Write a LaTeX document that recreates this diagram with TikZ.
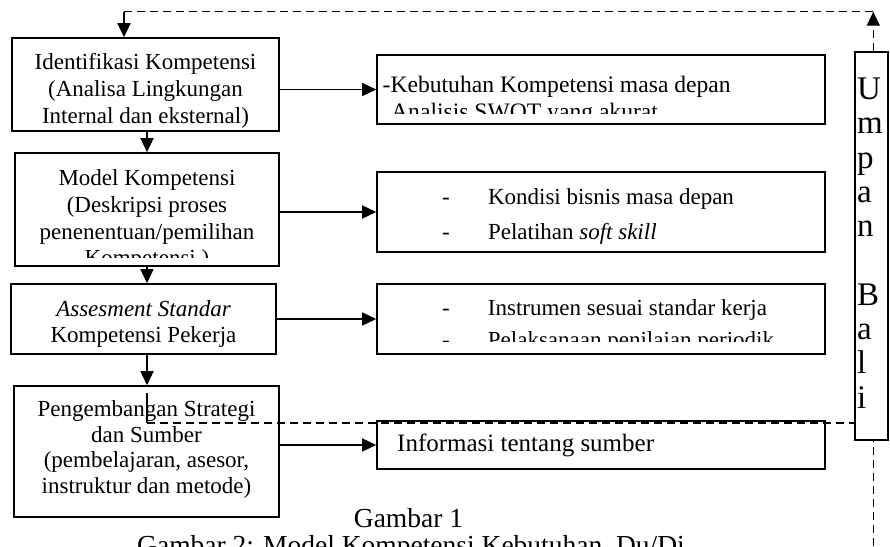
\documentclass[tikz,border=0pt]{standalone}
\usepackage{fontspec}
\setmainfont{Liberation Serif}
\usetikzlibrary{arrows.meta,fit}
\begin{document}
\begin{tikzpicture}[x=1pt,y=-1pt,
  box/.style={draw, line width=1.6pt, inner sep=0pt},
  arr/.style={line width=1.5pt, -{Triangle[length=14pt,width=13pt]}},
  fb/.style={line width=1.3pt, dash pattern=on 8pt off 5pt},
  tc/.style={inner sep=0pt, anchor=base, font=\fontsize{23}{27}\selectfont},
  tl/.style={inner sep=0pt, anchor=base west, font=\fontsize{23}{27}\selectfont},
  tlb/.style={inner sep=0pt, anchor=base west, font=\fontsize{23.6}{27}\selectfont},
  tinfo/.style={inner sep=0pt, anchor=base west, font=\fontsize{25}{29}\selectfont},
  tcap/.style={inner sep=0pt, anchor=base, font=\fontsize{27.5}{32}\selectfont},
  tub/.style={inner sep=0pt, anchor=base west, font=\fontsize{33}{34}\selectfont}]
\useasboundingbox (0,0) rectangle (890,546);

% left boxes
\node[box, fit={(12,38) (279,131)}] (b1) {};
\node[box, fit={(15,153) (279,266)}] (b2) {};
\node[box, fit={(11,284) (276,354)}] (b3) {};
\node[box, fit={(14,386) (279,517)}] (b4) {};
% right boxes
\node[box, fit={(377,55) (825,124)}] (r1) {};
\node[box, fit={(377,172) (825,252)}] (r2) {};
\node[box, fit={(377,284) (825,354)}] (r3) {};
\node[box, fit={(377,421) (825,469)}] (r4) {};
% feedback box
\node[box, fit={(855,52) (888,440)}] (ub) {};

% texts of left boxes
\node[tc] (b1a) at (145.5,69) {Identifikasi Kompetensi};
\node[tc] (b1b) at (145.5,96.5) {(Analisa Lingkungan};
\node[tc] (b1c) at (145.5,123.5) {Internal dan eksternal)};

\node[tc] (b2a) at (147,185) {Model Kompetensi};
\node[tc] (b2b) at (147,212) {(Deskripsi proses};
\node[tc] (b2c) at (147,239) {penenentuan/pemilihan};
\begin{scope}
  \clip (15,150) rectangle (279,257.5);
  \node[tc] (b2d) at (147,265.5) {Kompetensi )};
\end{scope}

\node[tc] (b3a) at (143.5,316.5) {\itshape Assesment Standar};
\node[tc] (b3b) at (143.5,342) {Kompetensi Pekerja};

\node[tc] (b4a) at (146.5,416.5) {Pengembangan Strategi};
\node[tc] (b4b) at (146.5,442.5) {dan Sumber};
\node[tc] (b4c) at (146.5,467.5) {(pembelajaran, asesor,};
\node[tc] (b4d) at (146.5,493) {instruktur dan metode)};

% texts of right boxes
\node[tlb] (r1a) at (382.5,92) {-Kebutuhan Kompetensi masa depan};
\begin{scope}
  \clip (377,55) rectangle (825,113.7);
  \node[tlb] (r1b) at (391,119) {Analisis SWOT yang akurat};
\end{scope}

\node[tc] (r2d1) at (446,204) {-};
\node[tl] (r2a) at (487.8,204) {Kondisi bisnis masa depan};
\node[tc] (r2d2) at (446,239.5) {-};
\node[tl] (r2b) at (487.8,239.5) {Pelatihan \textit{soft skill}};

\node[tc] (r3d1) at (446,315) {-};
\node[tl] (r3a) at (487.7,315) {Instrumen sesuai standar kerja};
\begin{scope}
  \clip (377,284) rectangle (825,341.7);
  \node[tc] (r3d2) at (446,347) {-};
  \node[tl] (r3b) at (487.7,347) {Pelaksanaan penilaian periodik};
\end{scope}

\node[tinfo] (r4a) at (397,451.7) {Informasi tentang sumber};

% vertical text in feedback box
\begin{scope}
  \clip (855.8,52.8) rectangle (887.2,439.2);
  \foreach \ch/\k in {U/0,m/1,p/2,a/3,n/4,B/6,a/7,l/8,i/9}
    \node[tub] (u\k) at (857,{99.5+34.3*\k}) {\ch};
\end{scope}

% caption
\node[tcap] (cap1) at (408.5,527) {Gambar 1};
\node[tcap] (cap2) at (411,554) {Gambar 2: Model Kompetensi Kebutuhan\ \ Du/Di};

% connectors
\draw[arr] (b1.east |- r1.west) -- (r1.west);
\draw[arr] (b2.east |- r2.west) -- (r2.west);
\draw[arr] (b3.east |- r3.west) -- (r3.west);
\draw[arr] (b4.east |- r4.west) -- (r4.west);

\coordinate (vx) at (147,0);
\draw[arr] (b1.south -| vx) -- (b2.north -| vx);
\draw[arr] (b2.south -| vx) -- (b3.north -| vx);
\draw[arr] (b3.south -| vx) -- (b4.north -| vx);

% feedback loop
\coordinate (fbA) at (147,393);
\coordinate (fbB) at (147,423);
\coordinate (fbEnd) at (873.3,546);
\coordinate (fbTopR) at (873.3,11.7);
\coordinate (fbTopL) at (124,11.7);
\draw[line width=1.3pt] (fbA) -- (fbB);
\draw[fb] (fbB) -- (fbB -| ub.west);
\draw[fb] (fbEnd) -- (fbEnd |- ub.south);
\draw[fb, -{Triangle[length=14pt,width=13pt]}] (fbTopR |- ub.north) -- (fbTopR);
\draw[fb] (fbTopR) -- (fbTopL);
\draw[arr] (fbTopL) -- (fbTopL |- b1.north);
\end{tikzpicture}
\end{document}
